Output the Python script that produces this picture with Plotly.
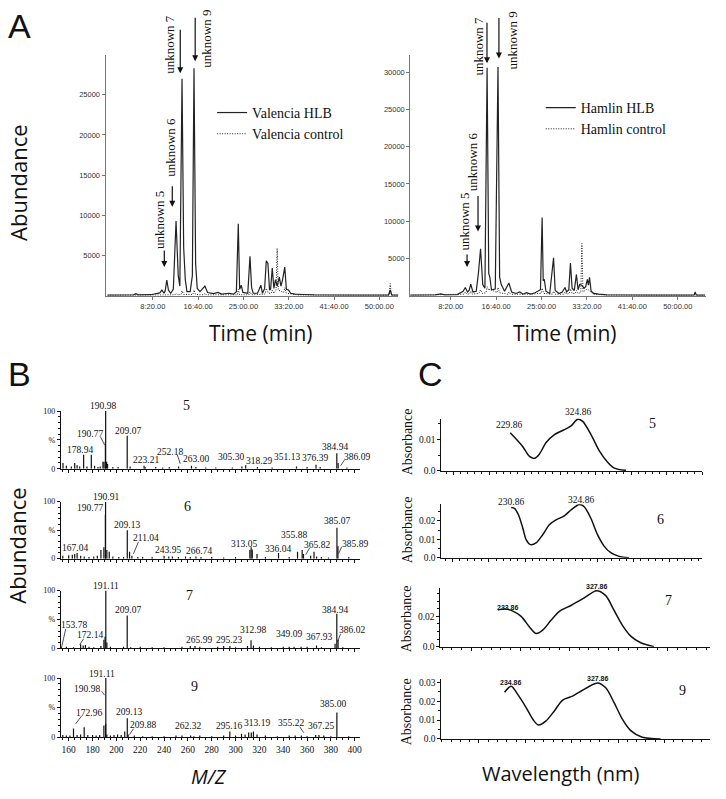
import plotly.graph_objects as go

W, H = 726, 799

# ---------------- DATA ----------------
# Panel A chromatograms (time in min, abundance)
VAL_T = [0.0, 4.8, 5.2, 5.6, 8.0, 9.6, 10.0, 10.4, 10.6, 10.9, 11.2, 11.6, 12.1, 12.6, 13.0, 13.3, 13.7, 14.0, 14.3, 14.6,
         15.2, 15.6, 15.9, 16.2, 16.5, 17.0, 17.9, 18.4, 19.5, 20.3, 21.0, 22.3, 23.2, 23.7, 24.05, 24.3, 24.6, 24.9, 25.8, 26.2,
         26.5, 26.8, 27.6, 28.2, 28.5, 28.9, 29.2, 29.5, 29.8, 30.0, 30.3, 30.6, 30.9, 31.2, 31.6, 31.9, 32.2, 32.6, 32.9, 33.3,
         33.7, 34.5, 36.0, 38.0, 45.0, 51.7, 52.0, 52.3, 53.5]
VAL_HLB = [80, 100, 250, 100, 120, 350, 700, 300, 600, 1950, 700, 300, 800, 9300, 2500, 1200, 27000, 6000, 2000, 500,
           500, 2500, 28300, 4000, 900, 500, 1200, 400, 250, 400, 200, 300, 200, 500, 8950, 800, 1300, 400, 300, 4900,
           1000, 300, 300, 1300, 300, 900, 4350, 4000, 700, 800, 3450, 900, 2000, 1200, 2300, 1200, 2000, 3550, 800, 700,
           300, 200, 150, 100, 80, 80, 700, 80, 80]
VAL_CT_T = [0.0, 9.8, 10.0, 10.3, 12.4, 12.6, 12.9, 13.5, 13.7, 14.0, 15.7, 15.9, 16.2, 17.7, 17.9, 18.2, 23.9, 24.05, 24.3, 26.0,
            26.2, 26.5, 29.0, 29.2, 29.6, 30.1, 30.3, 30.6, 31.0, 31.2, 31.4, 32.4, 32.6, 32.9, 33.5, 35.0, 51.8, 52.0, 52.2, 53.5]
VAL_CTRL = [50, 60, 150, 60, 100, 300, 100, 150, 600, 150, 150, 700, 150, 100, 300, 100, 100, 800, 100, 100,
            500, 100, 200, 900, 300, 300, 700, 300, 700, 5900, 700, 400, 1000, 300, 250, 80, 50, 1500, 50, 50]

HAM_T = [0.9, 5.5, 6.5, 7.2, 9.5, 10.6, 11.0, 11.4, 11.7, 12.0, 12.4, 13.0, 13.4, 13.8, 14.2, 14.6, 15.0, 15.3, 15.5, 15.8,
         16.5, 17.0, 17.3, 17.6, 18.2, 19.0, 19.5, 20.3, 21.0, 21.6, 22.2, 23.0, 23.8, 24.3, 24.8, 25.1, 25.3, 25.5, 25.8, 26.5,
         27.2, 27.5, 28.2, 28.8, 29.3, 29.6, 30.0, 30.3, 30.6, 31.0, 31.4, 31.7, 32.0, 32.4, 32.8, 33.1, 33.4, 33.6, 33.8, 34.1,
         34.6, 35.5, 37.0, 45.0, 53.0, 53.2, 53.4, 55.0]
HAM_HLB = [80, 100, 250, 100, 150, 600, 1100, 500, 700, 1550, 500, 600, 3000, 6300, 1500, 1000, 30600, 3000, 2500, 800,
           900, 30700, 2500, 1500, 600, 1700, 500, 300, 500, 200, 400, 200, 400, 600, 800, 10500, 2000, 2200, 600, 300,
           5100, 700, 300, 500, 1100, 500, 800, 4400, 1000, 700, 2850, 800, 1500, 1400, 1000, 1200, 2200, 1400, 2450, 600,
           300, 200, 120, 80, 80, 500, 80, 80]
HAM_CT_T = [0.9, 10.8, 11.0, 11.3, 11.8, 12.0, 12.3, 13.5, 13.8, 14.1, 14.8, 15.0, 15.3, 15.5, 16.8, 17.0, 17.3, 18.8, 19.0, 19.3,
            22.0, 24.9, 25.1, 25.4, 27.0, 27.2, 27.5, 29.1, 29.3, 29.6, 30.1, 30.3, 30.6, 31.2, 31.4, 31.7, 32.2, 32.4, 32.6, 33.4,
            34.5, 37.0, 52.9, 53.2, 53.5, 55.0]
HAM_CTRL = [50, 200, 500, 200, 250, 600, 200, 300, 800, 300, 400, 1200, 700, 900, 400, 1100, 400, 200, 500, 200,
            200, 300, 1000, 300, 200, 600, 200, 200, 500, 200, 300, 900, 300, 300, 700, 300, 400, 7000, 500, 900,
            200, 80, 50, 300, 50, 50]

TIME_TICKS = [8.3333, 16.6667, 25.0, 33.3333, 41.6667, 50.0]
TIME_LABELS = ["8:20.00", "16:40.00", "25:00.00", "33:20.00", "41:40.00", "50:00.00"]
ABUND_TICKS = [5000, 10000, 15000, 20000, 25000, 30000]
ABUND_LABELS = ["5000", "10000", "15000", "20000", "25000", "30000"]

# Panel B mass spectra (m/z, relative %)
MZ5 = [155.2, 158.0, 162.2, 165.0, 167.0, 169.2, 172.5, 175.3, 178.94, 181.7, 184.5, 186.4, 188.7, 189.6, 190.77, 190.98,
       191.8, 192.6, 197.0, 201.4, 209.07, 211.5, 223.21, 224.1, 233.0, 238.8, 244.4, 252.18, 263.00, 266.7, 275.0, 283.4,
       297.3, 305.30, 308.5, 318.29, 330.7, 351.13, 360.0, 367.5, 371.0, 384.94, 386.09, 393.4]
AB5 = [10, 5, 4, 10, 6, 4, 24, 4, 24, 5, 3, 4, 12, 12, 46, 100, 12, 8, 3, 3, 57, 4, 5, 3, 3, 2, 3, 4, 5, 3, 2, 2,
       2, 4, 6, 3, 2, 4, 3, 7, 3, 27, 10, 2]
MZ6 = [155, 160, 163, 165, 167.04, 170, 173, 177, 181, 184, 187, 189.5, 190.77, 190.91, 192, 194, 197, 202, 206, 209.13,
       211.04, 213, 218, 222, 230, 240, 243.95, 247, 252, 258, 262, 266.74, 271, 280, 290, 300, 312, 313.05, 314, 318,
       325, 336.04, 345, 352, 355.88, 357, 363, 365.82, 368, 372, 378, 385.07, 385.89, 395]
AB6 = [5, 6, 7, 8, 10, 5, 4, 3, 4, 5, 15, 20, 77, 100, 15, 12, 4, 3, 3, 50, 12, 5, 3, 3, 3, 5, 4, 4, 3, 4, 3, 4, 3, 3, 2,
       3, 15, 20, 16, 8, 3, 10, 3, 12, 15, 8, 5, 12, 4, 3, 2, 54, 22, 3]
MZ7 = [153.78, 158, 164, 170, 172.14, 174, 177, 181, 187, 189.5, 190.5, 191.11, 192, 195, 206, 209.07, 212, 220, 230, 240,
       255, 262, 265.99, 270, 285, 290, 295.23, 300, 310, 312.98, 315, 320, 330, 340, 345, 349.09, 355, 360, 367.93, 372,
       383.5, 384.94, 386.02, 390]
AB7 = [3, 3, 2, 7, 5, 6, 3, 2, 4, 15, 20, 100, 10, 3, 3, 57, 2, 3, 2, 2, 3, 4, 4, 3, 3, 4, 4, 2, 4, 14, 5, 3, 2, 3, 3,
       3, 3, 3, 5, 2, 8, 60, 15, 2]
MZ9 = [155, 158, 161, 164, 167, 170, 172.96, 176, 180, 183, 186, 189.5, 190.98, 191.11, 192, 195, 198, 201, 204, 207,
       209.13, 209.88, 215, 222, 230, 240, 250, 255, 262.32, 265, 270, 280, 290, 295.16, 300, 305, 308, 311, 313.19, 315,
       318, 325, 335, 345, 350, 355.22, 360, 367.25, 370, 374, 380, 385.00, 395]
AB9 = [4, 3, 3, 15, 4, 5, 17, 4, 4, 3, 4, 20, 23, 100, 5, 3, 4, 5, 4, 10, 32, 5, 3, 2, 2, 2, 3, 3, 3, 2, 3, 2, 3, 10, 3,
       6, 5, 8, 8, 10, 5, 3, 2, 3, 3, 3, 2, 4, 4, 3, 2, 42, 2]
MZ_TICKS = [160, 180, 200, 220, 240, 260, 280, 300, 320, 340, 360, 380, 400]

# Panel C UV spectra (wavelength nm, absorbance)
WL5 = [229.86, 247.6, 257.0, 264.0, 271.0, 280.4, 292.1, 306.1, 315.5, 324.86, 331.9, 343.6, 355.3, 367.0, 376.4, 392.7]
UV5 = [0.0121, 0.0077, 0.0046, 0.0040, 0.0054, 0.0090, 0.0115, 0.0131, 0.0143, 0.0164, 0.0157, 0.0115, 0.0064, 0.0028,
       0.0009, 0.0002]
WL6 = [230.86, 235.4, 241.0, 246.9, 251.5, 257.5, 265.2, 274.4, 283.6, 292.8, 304.2, 313.4, 324.86, 331.7, 340.9, 350.1,
       359.2, 368.4, 379.9, 393.6]
UV6 = [0.0273, 0.0268, 0.0232, 0.0161, 0.0098, 0.0071, 0.0080, 0.0125, 0.0179, 0.0205, 0.0227, 0.0259, 0.0289, 0.0277,
       0.0214, 0.0125, 0.0063, 0.0027, 0.0007, 0.0]
WL7 = [227.1, 233.86, 242.3, 250.8, 259.3, 266.1, 272.8, 281.3, 289.8, 301.7, 313.5, 327.86, 337.2, 345.7, 354.2, 362.7,
       372.9, 386.4]
UV7 = [0.0243, 0.0248, 0.0235, 0.0200, 0.0130, 0.0087, 0.0109, 0.0174, 0.0233, 0.0272, 0.0315, 0.0370, 0.0337, 0.0239,
       0.0141, 0.0070, 0.0026, 0.0]
WL9 = [227.6, 234.86, 241.8, 250.9, 258.1, 264.1, 272.4, 281.3, 290.3, 301.0, 310.0, 327.86, 336.8, 345.8, 354.7, 363.7,
       376.2, 395.9]
UV9 = [0.0249, 0.0281, 0.0237, 0.0167, 0.0105, 0.0074, 0.0096, 0.0149, 0.0207, 0.0228, 0.0254, 0.0298, 0.0272, 0.0193,
       0.0105, 0.0044, 0.0009, 0.0]

# ---------------- LAYOUT HELPERS ----------------
SERIF = "Liberation Serif"
SANS = "Open Sans"
DOT = "1px,1.5px"


def px(x):
    return x / W


def py(y):
    return 1 - y / H


layout = dict(width=W, height=H, margin=dict(l=0, r=0, t=0, b=0),
              paper_bgcolor="white", plot_bgcolor="white", showlegend=True)
annotations = []
shapes = []
fig = go.Figure()


def axes(i, x0, x1, y0, y1, xopt, yopt):
    xk = "xaxis" if i == 1 else f"xaxis{i}"
    yk = "yaxis" if i == 1 else f"yaxis{i}"
    base = dict(showgrid=False, zeroline=False, showline=True, linewidth=1, fixedrange=True)
    layout[xk] = dict(base, domain=[px(x0), px(x1)], anchor=f"y{i if i > 1 else ''}", **xopt)
    layout[yk] = dict(base, domain=[py(y1), py(y0)], anchor=f"x{i if i > 1 else ''}", **yopt)
    return ("x" if i == 1 else f"x{i}"), ("y" if i == 1 else f"y{i}")


def text(t, x, y, size, family=SERIF, angle=0, color="#111", **kw):
    annotations.append(dict(text=t, x=px(x), y=py(y), xref="paper", yref="paper", showarrow=False,
                            textangle=angle, font=dict(family=family, size=size, color=color),
                            xanchor="center", yanchor="middle", borderpad=0, **kw))


def arrow(x, y_from, y_to):
    annotations.append(dict(text="", x=px(x), y=py(y_to), xref="paper", yref="paper", showarrow=True,
                            ax=0, ay=-(y_to - y_from), arrowhead=2, arrowsize=1, arrowwidth=1.2,
                            arrowcolor="#111", standoff=0))


def leader(x0, y0, x1, y1):
    shapes.append(dict(type="line", xref="paper", yref="paper", x0=px(x0), y0=py(y0), x1=px(x1), y1=py(y1),
                       line=dict(color="#222", width=0.8)))


# ---------------- PANEL A ----------------
chrom_x = dict(linecolor="#777", ticks="outside", ticklen=3, tickcolor="#777",
               tickvals=TIME_TICKS, ticktext=TIME_LABELS,
               tickfont=dict(family="Liberation Sans", size=7.5, color="#333"))
chrom_y = dict(linecolor="#777", ticks="outside", ticklen=3, tickcolor="#777",
               tickvals=ABUND_TICKS, ticktext=ABUND_LABELS,
               tickfont=dict(family="Liberation Sans", size=7.5, color="#333"))

xa, ya = axes(1, 106, 400, 52, 295, dict(chrom_x, range=[-0.37, 53.5]), dict(chrom_y, range=[0, 29900]))
fig.add_trace(go.Scatter(x=VAL_T, y=VAL_HLB, mode="lines", line=dict(color="#222", width=1.2),
                         name="Valencia HLB", xaxis=xa, yaxis=ya, legend="legend"))
fig.add_trace(go.Scatter(x=VAL_CT_T, y=VAL_CTRL, mode="lines", line=dict(color="#222", width=1, dash=DOT),
                         name="Valencia control", xaxis=xa, yaxis=ya, legend="legend"))

xa, ya = axes(2, 412, 709, 52, 295, dict(chrom_x, range=[0.9, 55.2]), dict(chrom_y, range=[0, 32270]))
fig.add_trace(go.Scatter(x=HAM_T, y=HAM_HLB, mode="lines", line=dict(color="#222", width=1.2),
                         name="Hamlin HLB", xaxis=xa, yaxis=ya, legend="legend2"))
fig.add_trace(go.Scatter(x=HAM_CT_T, y=HAM_CTRL, mode="lines", line=dict(color="#222", width=1, dash=DOT),
                         name="Hamlin control", xaxis=xa, yaxis=ya, legend="legend2"))

leg = dict(xanchor="left", yanchor="top", bgcolor="rgba(0,0,0,0)", itemwidth=30, tracegroupgap=0,
           font=dict(family=SERIF, size=14, color="#111"))
layout["legend"] = dict(leg, x=px(213), y=py(94))
layout["legend2"] = dict(leg, x=px(543), y=py(89))

# unknown labels + arrows (pixel layout)
for t, tx, ty, ax_x, a0, a1 in [("unknown 5", 160, 218, 165, 248, 266), ("unknown 6", 171, 145, 173, 183, 205),
                                ("unknown 7", 170, 41, 181, 25, 70), ("unknown 9", 207, 35, 196, 13, 58),
                                ("unknown 5", 466, 220, 469, 252, 266), ("unknown 6", 474, 160, 480, 193, 230),
                                ("unknown 7", 480, 43, 489, 18, 60), ("unknown 9", 515, 37, 501, 13, 55)]:
    text(t, tx, ty, 13, angle=-90)
    arrow(ax_x, a0, a1)

text("A", 20, 22, 34, family="Liberation Sans")
text("Abundance", 18, 181, 22, family=SANS, angle=-90)
text("Time (min)", 262, 333, 21, family=SANS)
text("Time (min)", 567, 333, 21, family=SANS)

# ---------------- PANEL B ----------------
ms_specs = [(MZ5, AB5, 411.7, 470, "5"), (MZ6, AB6, 503.3, 561, "6"),
            (MZ7, AB7, 593.3, 651.7, "7"), (MZ9, AB9, 681.7, 741.7, "9")]
for k, (mz, ab, top, bot, name) in enumerate(ms_specs):
    i = 3 + k
    last = (k == len(ms_specs) - 1)
    xo = dict(range=[153.3, 404], linecolor="#111", ticks="outside", ticklen=3, tickcolor="#111",
              tickvals=MZ_TICKS, showticklabels=last,
              tickfont=dict(family=SERIF, size=9.5, color="#111"),
              minor=dict(dtick=5, tick0=160, ticks="outside", ticklen=2, tickcolor="#111"))
    yo = dict(range=[0, 100], linecolor="#111", ticks="outside", ticklen=3, tickcolor="#111",
              tickvals=[0, 50, 100], ticktext=["0", "%", "100"],
              tickfont=dict(family=SERIF, size=8, color="#111"),
              minor=dict(dtick=10, ticks="outside", ticklen=2, tickcolor="#111"))
    xa, ya = axes(i, 61, 361, top, bot, xo, yo)
    xs, ys = [], []
    for m, a in zip(mz, ab):
        xs += [m, m, None]
        ys += [0, a, None]
    fig.add_trace(go.Scatter(x=xs, y=ys, mode="lines", line=dict(color="#111", width=1.2),
                             showlegend=False, xaxis=xa, yaxis=ya, hoverinfo="skip"))

MS_LABELS = [
    ("5", 187, 406, 14), ("190.98", 103.3, 406.7, 9.5), ("190.77", 90, 434.7, 9.5), ("209.07", 128.3, 431.7, 9.5),
    ("178.94", 80, 451, 9.5), ("223.21", 146.7, 460.7, 9.5), ("252.18", 170.7, 452.7, 9.5), ("263.00", 196.7, 460, 9.5),
    ("305.30", 231.7, 458.3, 9.5), ("318.29", 260, 462.7, 9.5), ("351.13", 288.3, 457.7, 9.5),
    ("376.39", 316.7, 459, 9.5), ("384.94", 336.7, 448.3, 9.5), ("386.09", 358.3, 458.3, 9.5),
    ("6", 188.3, 508.3, 14), ("190.91", 106, 498.3, 9.5), ("190.77", 90, 509.3, 9.5), ("209.13", 127.7, 526.7, 9.5),
    ("211.04", 146.7, 540, 9.5), ("167.04", 75, 550, 9.5), ("243.95", 168.3, 552.7, 9.5), ("266.74", 200, 553.3, 9.5),
    ("313.05", 245, 546, 9.5), ("336.04", 279.3, 551, 9.5), ("355.88", 295.7, 536.7, 9.5),
    ("365.82", 318.3, 546.7, 9.5), ("385.07", 338.3, 523.3, 9.5), ("385.89", 356.7, 545.7, 9.5),
    ("7", 190, 598.3, 14), ("191.11", 106, 589, 9.5), ("209.07", 128.3, 613.3, 9.5), ("384.94", 336.7, 613.3, 9.5),
    ("153.78", 74, 628.3, 9.5), ("172.14", 90.7, 638.3, 9.5), ("265.99", 200, 643.3, 9.5), ("295.23", 230, 643.3, 9.5),
    ("312.98", 254.3, 633.3, 9.5), ("349.09", 290.7, 636.7, 9.5), ("367.93", 320, 640.7, 9.5),
    ("386.02", 353.3, 633.3, 9.5),
    ("9", 195, 690, 14), ("191.11", 102.7, 677.3, 9.5), ("190.98", 87.3, 692.3, 9.5), ("172.96", 89.3, 716.7, 9.5),
    ("209.13", 129.3, 716, 9.5), ("209.88", 144, 729.3, 9.5), ("262.32", 189, 730.7, 9.5), ("295.16", 230, 730.7, 9.5),
    ("313.19", 258.3, 726.7, 9.5), ("355.22", 292.7, 727.3, 9.5), ("367.25", 322, 730.7, 9.5),
    ("385.00", 334, 708.3, 9.5),
]
for t, x, y, s in MS_LABELS:
    text(t, x, y, s)

# small leader lines joining labels to their peaks
for seg in [(101, 438, 105, 446), (178, 456, 181, 465), (346, 461, 342, 467),
            (139, 544, 134, 556), (343, 549, 340, 556), (311, 550, 307, 557),
            (66, 632, 62, 650), (84, 642, 80, 648), (342, 637, 339, 645),
            (102, 695, 105, 699), (82, 720, 76, 728), (134, 733, 130, 739), (301, 731, 305, 737)]:
    leader(*seg)

text("B", 20, 374, 34, family="Liberation Sans")
text("Abundance", 17, 548, 22, family=SANS, angle=-90)
text("<i>M/Z</i>", 210, 781, 20, family=SANS)

# ---------------- PANEL C ----------------
uv_specs = [(WL5, UV5, 443.3, 705, 419.3, 472.3, [133, 500], 0.0166, [0, 0.01], ["0.0", "0.01"]),
            (WL6, UV6, 443.3, 705, 506, 560, [134.6, 494.5], 0.029, [0, 0.01, 0.02], ["0.0", "0.01", "0.02"]),
            (WL7, UV7, 442.3, 713.3, 590.7, 650, [168.4, 444], 0.0387, [0, 0.02], ["0.0", "0.02"]),
            (WL9, UV9, 443.3, 713.3, 682.7, 743.3, [159.6, 449.6], 0.0319, [0, 0.01, 0.02, 0.03],
             ["0.0", "0.01", "0.02", "0.03"])]
for k, (wl, uv, x0, x1, y0, y1, xr, ymax, tv, tt) in enumerate(uv_specs):
    i = 7 + k
    xo = dict(range=xr, linecolor="#111", ticks="outside", ticklen=3, tickcolor="#111", dtick=50, tick0=0,
              showticklabels=False, minor=dict(dtick=10, ticks="outside", ticklen=2, tickcolor="#111"))
    yo = dict(range=[0, ymax], linecolor="#111", ticks="outside", ticklen=3, tickcolor="#111",
              tickvals=tv, ticktext=tt, tickfont=dict(family=SERIF, size=9.5, color="#111"),
              minor=dict(dtick=0.005, ticks="outside", ticklen=2, tickcolor="#111"))
    xa, ya = axes(i, x0, x1, y0, y1, xo, yo)
    fig.add_trace(go.Scatter(x=wl, y=uv, mode="lines", line=dict(color="#111", width=1.5, shape="spline", smoothing=0.8),
                             showlegend=False, xaxis=xa, yaxis=ya, hoverinfo="skip", cliponaxis=False))

UV_LABELS = [("229.86", 511, 426, 9.5, SERIF), ("324.86", 580, 413, 9.5, SERIF), ("5", 655, 424.3, 14, SERIF),
             ("230.86", 512.7, 503.3, 9.5, SERIF), ("324.86", 583.3, 501.7, 9.5, SERIF), ("6", 663.3, 521.7, 14, SERIF),
             ("<b>233.86</b>", 510, 610, 7, "Liberation Sans"), ("<b>327.86</b>", 599, 589.3, 7, "Liberation Sans"),
             ("7", 671.7, 603.3, 14, SERIF),
             ("<b>234.86</b>", 512.7, 686.7, 7, "Liberation Sans"), ("<b>327.86</b>", 600, 681.7, 7, "Liberation Sans"),
             ("9", 685, 694, 14, SERIF)]
for t, x, y, s, f in UV_LABELS:
    text(t, x, y, s, family=f)

for y in [443, 532, 622, 716]:
    text("Absorbance", 409, y, 14, angle=-90)

text("C", 432, 374, 34, family="Liberation Sans")
text("Wavelength (nm)", 563, 778, 20, family=SANS)

layout["annotations"] = annotations
layout["shapes"] = shapes
fig.update_layout(**layout)
# remove the browser's default 8px body margin so the figure fills the window exactly
fig.write_html("out.html", config={"displayModeBar": False},
               post_script="document.body.style.margin='0';")
